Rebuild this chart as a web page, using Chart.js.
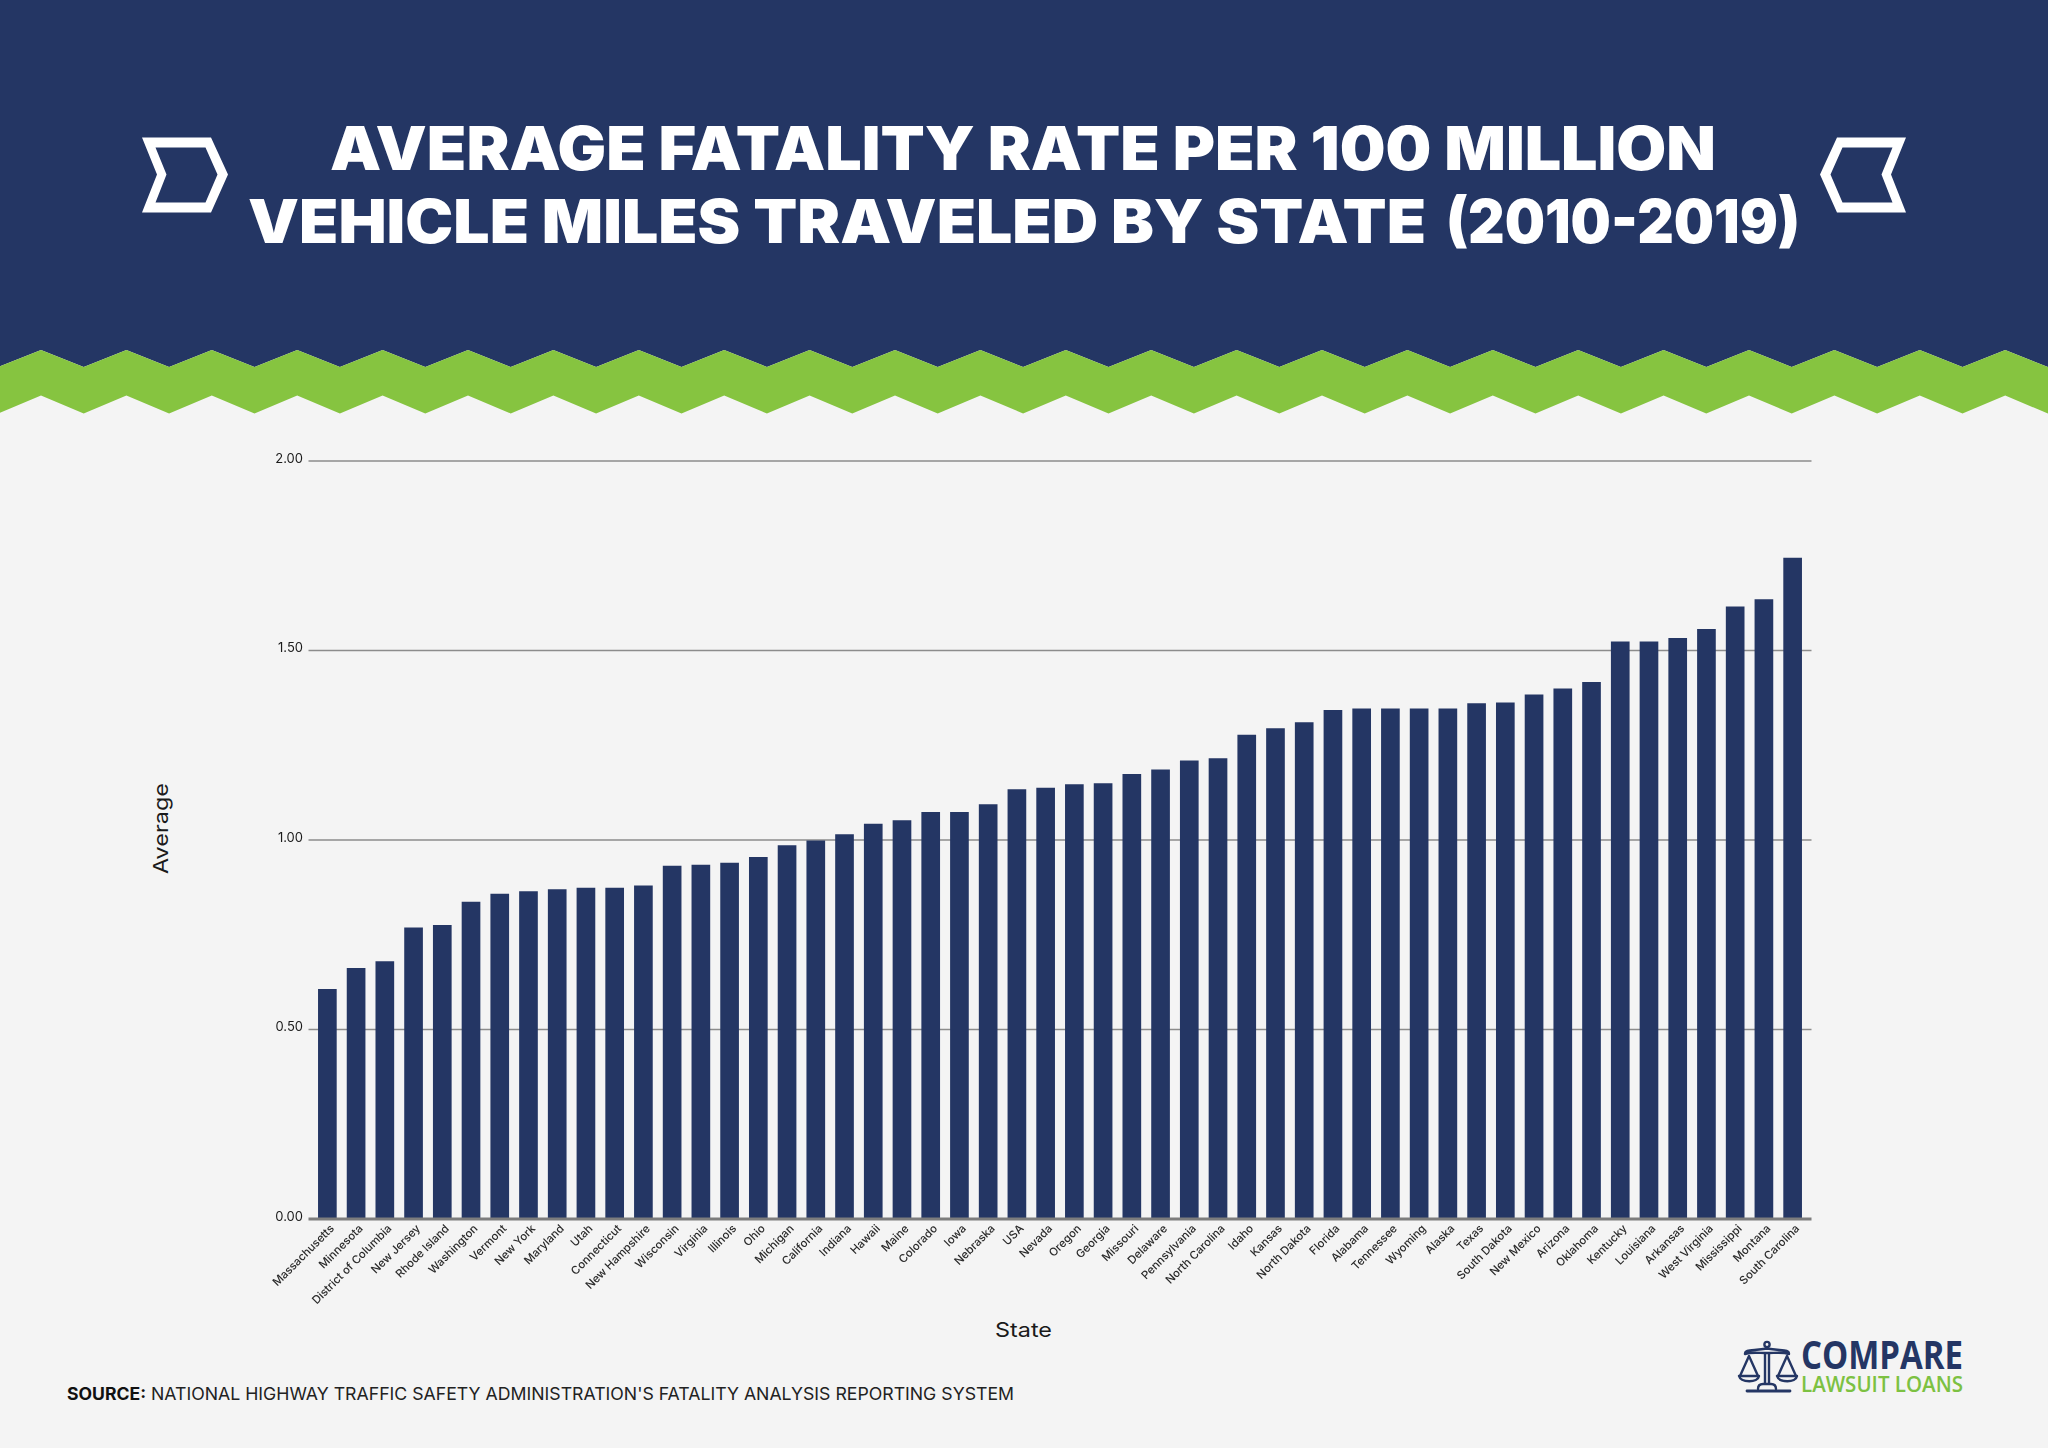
<!DOCTYPE html>
<html>
<head>
<meta charset="utf-8">
<title>Average fatality rate by state</title>
<script src="https://cdn.jsdelivr.net/npm/chart.js@4"></script>
<style>
    html, body { margin: 0; padding: 0; background: #f4f4f4; }
    #page { position: relative; width: 2048px; height: 1448px; overflow: hidden; }
    #page svg, #page canvas { position: absolute; left: 0; top: 0; }
    text { font-family: Inter, sans-serif; }
</style>
</head>
<body>
<div id="page">
    <svg id="art" width="2048" height="1448" viewBox="0 0 2048 1448">
        <polygon id="headerBand" fill="#243664"/>
        <polygon id="greenBand" fill="#86c440"/>

        <!-- chevrons -->
        <path fill="#fff" fill-rule="evenodd" d="M142 137.5H211L228 174.5L211 212.5H142L157 174.5ZM155.5 147.5L166.5 174.5L155.5 202.5H205.5L217.5 174.5L205.5 147.5Z"/>
        <path fill="#fff" fill-rule="evenodd" transform="translate(2048 0) scale(-1 1)" d="M142 137.5H211L228 174.5L211 212.5H142L157 174.5ZM155.5 147.5L166.5 174.5L155.5 202.5H205.5L217.5 174.5L205.5 147.5Z"/>

        <!-- title -->
        <text x="330" y="170" font-size="60" font-weight="900" fill="#fff" textLength="1386" lengthAdjust="spacingAndGlyphs">AVERAGE FATALITY RATE PER 100 MILLION</text>
        <text y="243" font-size="60" font-weight="900" fill="#fff"><tspan x="248" textLength="1178" lengthAdjust="spacingAndGlyphs">VEHICLE MILES TRAVELED BY STATE</tspan> <tspan x="1446" textLength="354" lengthAdjust="spacingAndGlyphs">(2010-2019)</tspan></text>

        <!-- axis titles -->
        <text transform="translate(168 874) rotate(-90)" font-size="20" fill="#1a1a1a" textLength="91" lengthAdjust="spacingAndGlyphs">Average</text>
        <text x="995" y="1337" font-size="20" fill="#1a1a1a" textLength="57" lengthAdjust="spacingAndGlyphs">State</text>

        <!-- source -->
        <text x="67" y="1400" font-size="17" font-weight="700" fill="#111" textLength="79" lengthAdjust="spacingAndGlyphs">SOURCE:</text>
        <text x="151" y="1400" font-size="17" fill="#222" textLength="863" lengthAdjust="spacingAndGlyphs">NATIONAL HIGHWAY TRAFFIC SAFETY ADMINISTRATION'S FATALITY ANALYSIS REPORTING SYSTEM</text>

        <!-- logo -->
        <g fill="none" stroke="#243664" stroke-width="2.4" stroke-linecap="round" stroke-linejoin="round">
            <circle cx="1767" cy="1344.5" r="2.6"/>
            <path d="M1745 1354C1745 1349 1752 1351 1767 1348.5C1782 1351 1789 1349 1789 1354C1782 1351.5 1772 1353.5 1767 1353C1762 1353.5 1752 1351.5 1745 1354Z"/>
            <path d="M1765 1354V1383M1769 1354V1383"/>
            <path d="M1758 1389C1758 1385 1761 1384 1763 1384H1771C1773 1384 1776 1385 1776 1389"/>
            <path d="M1747 1391H1790" stroke-width="2.8"/>
            <path d="M1749 1356L1740 1376M1749 1356L1758 1376"/>
            <path d="M1739 1376H1759C1758 1383 1741 1383 1739 1376Z"/>
            <path d="M1787 1356L1778 1376M1787 1356L1796 1376"/>
            <path d="M1777 1376H1797C1796 1383 1779 1383 1777 1376Z"/>
        </g>
        <text x="1801" y="1369" font-size="39" font-weight="700" fill="#243664" style="font-family:'Open Sans',sans-serif" textLength="162" lengthAdjust="spacingAndGlyphs">COMPARE</text>
        <text x="1801" y="1392" font-size="22" font-weight="600" fill="#7cc142" style="font-family:'Open Sans',sans-serif" textLength="162" lengthAdjust="spacingAndGlyphs">LAWSUIT LOANS</text>
    </svg>
    <canvas id="myChart" width="2048" height="1448"></canvas>
</div>

<script>
// Chart data
const states = ["Massachusetts", "Minnesota", "District of Columbia", "New Jersey", "Rhode Island", "Washington", "Vermont", "New York", "Maryland", "Utah",
    "Connecticut", "New Hampshire", "Wisconsin", "Virginia", "Illinois", "Ohio", "Michigan", "California", "Indiana", "Hawaii",
    "Maine", "Colorado", "Iowa", "Nebraska", "USA", "Nevada", "Oregon", "Georgia", "Missouri", "Delaware",
    "Pennsylvania", "North Carolina", "Idaho", "Kansas", "North Dakota", "Florida", "Alabama", "Tennessee", "Wyoming", "Alaska",
    "Texas", "South Dakota", "New Mexico", "Arizona", "Oklahoma", "Kentucky", "Louisiana", "Arkansas", "West Virginia", "Mississippi",
    "Montana", "South Carolina"];

const averages = [0.607, 0.662, 0.680, 0.769, 0.776, 0.837, 0.858, 0.865, 0.870, 0.874,
    0.874, 0.880, 0.932, 0.935, 0.940, 0.955, 0.986, 0.999, 1.015, 1.043,
    1.052, 1.074, 1.074, 1.094, 1.134, 1.138, 1.147, 1.150, 1.174, 1.186,
    1.210, 1.216, 1.278, 1.295, 1.311, 1.343, 1.347, 1.347, 1.347, 1.347,
    1.361, 1.363, 1.384, 1.400, 1.417, 1.524, 1.524, 1.533, 1.557, 1.616,
    1.635, 1.745];

const navy = "#243664";
const gridColor = "#8c8c8c";
const baseColor = "#7d7d7d";
const gridOverhang = 4.5;

// Header and zigzag green band
function DrawBands(){
    const period = 85.4;
    const upper = [];
    const lower = [];
    for (let x = -1.7, i = 0; x < 2048 + period; x += period / 2, i++){
        upper.push(x.toFixed(1) + "," + (i % 2 ? 350 : 367));
        lower.push(x.toFixed(1) + "," + (i % 2 ? 395.5 : 413.5));
    }
    document.getElementById("headerBand").setAttribute("points", "0,0 2048,0 2060,367 " + upper.slice().reverse().join(" ") + " -2,367");
    document.getElementById("greenBand").setAttribute("points", upper.join(" ") + " " + lower.slice().reverse().join(" "));
}
DrawBands();

// Gridlines run a little past the bars on both sides, which the category scale can't do itself
const wideGrid = {
    id: "wideGrid",
    beforeDatasetsDraw(chart){
        const { ctx, chartArea, scales } = chart;
        ctx.save();
        ctx.strokeStyle = gridColor;
        ctx.lineWidth = 1.6;
        scales.y.ticks.forEach(tick => {
            if (tick.value === 0) return;
            const y = scales.y.getPixelForValue(tick.value);
            ctx.beginPath();
            ctx.moveTo(chartArea.left - gridOverhang, y);
            ctx.lineTo(chartArea.right + gridOverhang, y);
            ctx.stroke();
        });
        ctx.restore();
    },
    afterDatasetsDraw(chart){
        const { ctx, chartArea, scales } = chart;
        const y = scales.y.getPixelForValue(0);
        ctx.save();
        ctx.strokeStyle = baseColor;
        ctx.lineWidth = 3;
        ctx.beginPath();
        ctx.moveTo(chartArea.left - gridOverhang, y);
        ctx.lineTo(chartArea.right + gridOverhang, y);
        ctx.stroke();
        ctx.restore();
    }
};

const ctx = document.getElementById("myChart").getContext("2d");
const myChart = new Chart(ctx, {
    type: "bar",
    data: {
        labels: states,
        datasets: [{
            label: "Average",
            data: averages,
            backgroundColor: navy,
            categoryPercentage: 1,
            barPercentage: 0.65
        }]
    },
    options: {
        responsive: false,
        animation: false,
        devicePixelRatio: 1,
        layout: { padding: { left: 0, right: 241, top: 461, bottom: 0 } },
        plugins: {
            legend: { display: false },
            tooltip: { enabled: false }
        },
        scales: {
            x: {
                afterFit: scale => { scale.height = 229; },
                grid: { display: false },
                border: { display: false },
                ticks: {
                    autoSkip: false,
                    minRotation: 45,
                    maxRotation: 45,
                    padding: -5,
                    labelOffset: 5,
                    color: "#2a2a2a",
                    font: { family: "Inter", size: 11.3, weight: "500" }
                }
            },
            y: {
                min: 0,
                max: 2,
                afterFit: scale => { scale.width = 313; },
                grid: { display: false },
                border: { display: false },
                ticks: {
                    stepSize: 0.5,
                    padding: 2,
                    labelOffset: -2,
                    color: "#1a1a1a",
                    font: { family: "Inter", size: 13 },
                    callback: value => value.toFixed(2)
                }
            }
        }
    },
    plugins: [wideGrid]
});
</script>
</body>
</html>
